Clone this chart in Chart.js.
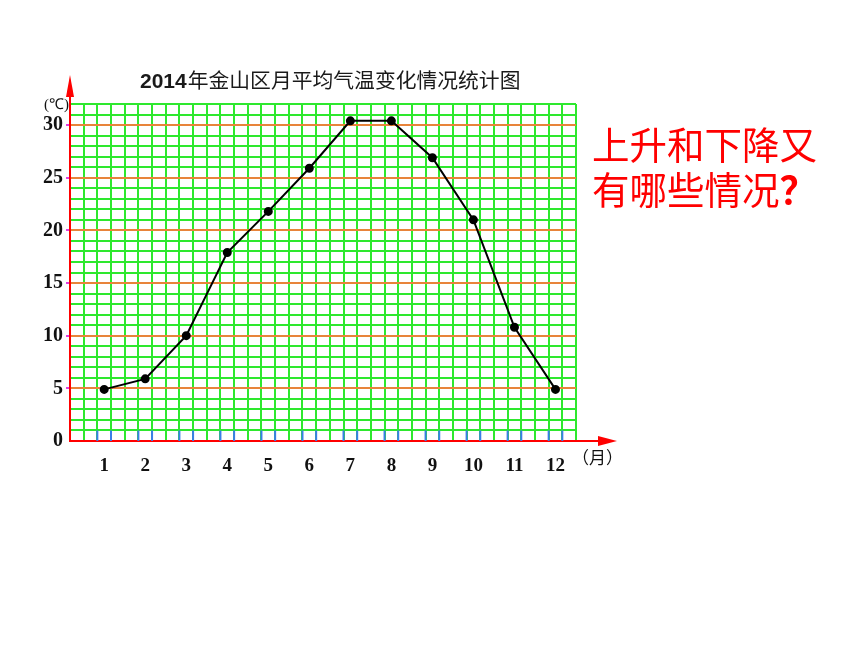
<!DOCTYPE html>
<html>
<head>
<meta charset="utf-8">
<script src="https://cdn.jsdelivr.net/npm/chart.js@4.4.1/dist/chart.umd.min.js"></script>
<style>
  html, body { margin: 0; padding: 0; background: #fff; }
  #wrap { position: relative; width: 860px; height: 645px; }
  #note {
    position: absolute; left: 592px; top: 120px;
    font-family: "Noto Sans CJK SC", sans-serif; font-size: 37.5px; line-height: 45px;
    color: #ff0000; white-space: nowrap;
  }
  #note b { font-weight: bold; }
</style>
</head>
<body>
<div id="wrap">
  <canvas id="tempChart" width="860" height="645"></canvas>
  <div id="note">上升和下降又<br>有哪些情况<b>？</b></div>
</div>
<script>
const months = [1, 2, 3, 4, 5, 6, 7, 8, 9, 10, 11, 12];
const temps = [4.9, 5.9, 10, 17.9, 21.8, 25.9, 30.4, 30.4, 26.9, 21, 10.8, 4.9];
const yLabels = [0, 5, 10, 15, 20, 25, 30];
const titleYear = '2014';
const titleText = '年金山区月平均气温变化情况统计图';

const green = '#2ee82e';
const orange = '#e8843a';
const red = '#ff0000';

// vertical grid: 3 cells per month, month centred in a cell
const xMin = months[0] - 5 / 6;
const xMax = months[months.length - 1] + 0.5;
const gridX = [];
for (let v = xMin; v <= xMax + 1e-6; v += 1 / 3) gridX.push(v);

const extras = {
    id: 'extras',
    beforeDatasetsDraw(chart) {
        const { ctx, scales } = chart;
        const x = scales.x, y = scales.y;
        // blue tick marks next to each month
        ctx.save();
        ctx.strokeStyle = '#3a7ee8';
        ctx.lineWidth = 2;
        months.forEach(m => {
            [m - 1 / 6, m + 1 / 6].forEach(v => {
                const px = x.getPixelForValue(v);
                ctx.beginPath();
                ctx.moveTo(px, y.getPixelForValue(0));
                ctx.lineTo(px, y.getPixelForValue(1));
                ctx.stroke();
            });
        });
        ctx.restore();
    },
    afterDraw(chart) {
        const { ctx, chartArea: a } = chart;
        ctx.save();
        // axis arrows
        ctx.strokeStyle = red;
        ctx.fillStyle = red;
        ctx.lineWidth = 2;
        ctx.beginPath();
        ctx.moveTo(a.right, a.bottom);
        ctx.lineTo(a.right + 26, a.bottom);
        ctx.stroke();
        ctx.beginPath();
        ctx.moveTo(a.right + 22, a.bottom - 5);
        ctx.lineTo(a.right + 41, a.bottom);
        ctx.lineTo(a.right + 22, a.bottom + 5);
        ctx.closePath();
        ctx.fill();
        ctx.beginPath();
        ctx.moveTo(a.left, a.top);
        ctx.lineTo(a.left, a.top - 10);
        ctx.stroke();
        ctx.beginPath();
        ctx.moveTo(a.left - 4, a.top - 7);
        ctx.lineTo(a.left, a.top - 29);
        ctx.lineTo(a.left + 4, a.top - 7);
        ctx.closePath();
        ctx.fill();

        // unit labels
        ctx.fillStyle = '#111';
        ctx.font = '15px "Liberation Serif", serif';
        ctx.textBaseline = 'middle';
        ctx.textAlign = 'right';
        ctx.fillText('(℃)', a.left - 1, a.top + 1);
        ctx.textAlign = 'left';
        ctx.font = '17px "Noto Sans CJK SC", serif';
        ctx.fillText('（月）', a.right - 4, a.bottom + 17);

        // title
        ctx.textBaseline = 'alphabetic';
        ctx.fillStyle = '#1a1a1a';
        ctx.font = 'bold 21px "Liberation Sans", Arial, sans-serif';
        ctx.fillText(titleYear, 140, 88);
        const w = ctx.measureText(titleYear).width;
        ctx.font = '20.8px "Noto Sans CJK SC", sans-serif';
        ctx.fillText(titleText, 140 + w + 1, 88);
        ctx.restore();
    }
};

new Chart(document.getElementById('tempChart').getContext('2d'), {
    type: 'line',
    data: {
        datasets: [{
            label: '月平均气温',
            data: months.map((m, i) => ({ x: m, y: temps[i] })),
            borderColor: '#000',
            backgroundColor: '#000',
            borderWidth: 2,
            pointRadius: 3.5,
            pointHoverRadius: 3.5,
            tension: 0,
            fill: false,
        }],
    },
    options: {
        responsive: false,
        animation: false,
        layout: { padding: { left: 0, right: 284, top: 104, bottom: 174 } },
        plugins: {
            legend: { display: false },
            tooltip: { enabled: false },
        },
        scales: {
            x: {
                type: 'linear',
                min: xMin,
                max: xMax,
                afterBuildTicks: s => { s.ticks = gridX.map(v => ({ value: v })); },
                afterFit: s => { s.height = 0; },
                ticks: { display: false },
                grid: {
                    drawTicks: false,
                    lineWidth: 2,
                    color: c => (c.index === 0 ? red : green),
                },
                border: { color: red, width: 2 },
            },
            xm: {
                type: 'linear',
                position: 'bottom',
                min: xMin,
                max: xMax,
                afterBuildTicks: s => { s.ticks = months.map(v => ({ value: v })); },
                afterFit: s => { s.height = 30; },
                grid: { display: false },
                border: { display: false },
                ticks: {
                    autoSkip: false,
                    maxRotation: 0,
                    padding: 6,
                    color: '#111',
                    font: { family: '"Liberation Serif", serif', size: 19, weight: 'bold' },
                },
            },
            y: {
                min: 0,
                max: 32,
                afterFit: s => { s.width = 70; },
                ticks: {
                    stepSize: 1,
                    autoSkip: false,
                    padding: 3,
                    color: '#111',
                    font: { family: '"Liberation Serif", serif', size: 20, weight: 'bold' },
                    callback: v => (yLabels.includes(v) ? v : ''),
                },
                grid: {
                    lineWidth: 2,
                    tickLength: 4,
                    tickColor: c => (c.tick && yLabels.includes(c.tick.value) && c.tick.value > 0 ? '#e040e0' : 'rgba(0,0,0,0)'),
                    color: c => {
                        const v = c.tick ? c.tick.value : 0;
                        if (v === 0) return red;
                        return yLabels.includes(v) ? orange : green;
                    },
                },
                border: { color: red, width: 2 },
            },
        },
    },
    plugins: [extras],
});
</script>
</body>
</html>
